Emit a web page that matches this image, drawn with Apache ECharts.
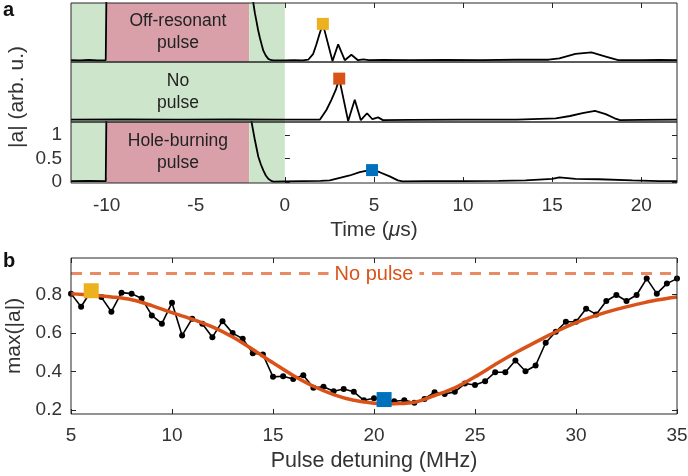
<!DOCTYPE html>
<html>
<head>
<meta charset="utf-8">
<script src="https://cdn.jsdelivr.net/npm/echarts@6/dist/echarts.min.js"></script>
<style>
  html, body { margin: 0; padding: 0; background: #fff; }
  #chart { width: 688px; height: 476px; }
</style>
</head>
<body>
<div id="chart"></div>
<script>
// ---- panel a : time traces (time in us, amplitude in arb. u.) ----
const timeTicks = [-10, -5, 0, 5, 10, 15, 20];
const ampTicks = [0, 0.5, 1];
const shadeWindow = [-12, 0];
const pulseWindow = [-10, -2];

const offResTrace = [
  [-12, 0.02], [-11.5, 0.015], [-11, 0.025], [-10.5, 0.015], [-10.05, 0.02], [-10, 2], [-1.85, 2],
  [-1.77, 1.28], [-1.68, 1.05], [-1.59, 0.87], [-1.5, 0.68], [-1.4, 0.51], [-1.3, 0.36], [-1.21, 0.23],
  [-1.07, 0.12], [-0.93, 0.05], [-0.8, 0.025], [-0.65, 0.015], [0, 0.015], [0.5, 0.02], [1, 0.015],
  [1.31, 0.03], [1.59, 0.16], [1.77, 0.37], [1.96, 0.62], [2.13, 0.82], [2.67, 0.0], [2.99, 0.37],
  [3.36, 0.02], [3.73, 0.14], [4.1, 0.02], [4.4, 0.04], [4.7, 0.02], [5.5, 0.025], [7, 0.02], [9, 0.025],
  [11, 0.02], [13, 0.03], [14.8, 0.03], [15.4, 0.06], [16.3, 0.16], [17.2, 0.19], [18.0, 0.1],
  [18.7, 0.02], [20, 0.02], [21, 0.025], [22, 0.02]
];
const noPulseTrace = [
  [-12, 0.03], [-9, 0.035], [-6, 0.03], [-3, 0.035], [0, 0.03], [1, 0.03], [1.96, 0.03], [2.33, 0.24],
  [2.61, 0.46], [2.86, 0.68], [3.05, 0.92], [3.55, 0.0], [3.92, 0.46], [4.26, 0.02], [4.61, 0.17],
  [4.91, 0.04], [5.23, 0.08], [5.5, 0.02], [7, 0.025], [10, 0.03], [13, 0.03], [15.2, 0.06], [16, 0.11],
  [16.7, 0.17], [17.4, 0.22], [18.0, 0.15], [18.5, 0.06], [18.8, 0.02], [20, 0.025], [22, 0.03]
];
const holeBurnTrace = [
  [-12, 0.02], [-11, 0.025], [-10.05, 0.02], [-10, 2], [-1.95, 2], [-1.87, 1.28], [-1.68, 0.89],
  [-1.49, 0.54], [-1.35, 0.38], [-1.21, 0.25], [-1.07, 0.14], [-0.93, 0.07], [-0.79, 0.03], [-0.65, 0.01],
  [0, 0.015], [1, 0.02], [2, 0.025], [2.52, 0.035], [3.08, 0.09], [3.64, 0.14], [4.2, 0.21], [4.89, 0.265],
  [5.32, 0.21], [5.88, 0.12], [6.34, 0.035], [6.6, 0.015], [8, 0.02], [10, 0.02], [12, 0.025],
  [13.5, 0.035], [15.0, 0.07], [15.4, 0.1], [16.3, 0.07], [17.6, 0.06], [19.5, 0.035], [21, 0.02], [22, 0.02]
];
const offResPeak = [2.13, 0.82];
const noPulsePeak = [3.05, 0.92];
const holeBurnPeak = [4.89, 0.255];

// ---- panel b : echo maximum vs pulse detuning ----
const detuning = [
  5, 5.5, 6, 6.5, 7, 7.5, 8, 8.5, 9, 9.5, 10, 10.5, 11, 11.5, 12, 12.5, 13, 13.5, 14, 14.5,
  15, 15.5, 16, 16.5, 17, 17.5, 18, 18.5, 19, 19.5, 20, 20.5, 21, 21.5, 22, 22.5, 23, 23.5, 24, 24.5,
  25, 25.5, 26, 26.5, 27, 27.5, 28, 28.5, 29, 29.5, 30, 30.5, 31, 31.5, 32, 32.5, 33, 33.5, 34, 34.5, 35
];
const maxA = [
  0.805, 0.737, 0.82, 0.787, 0.711, 0.81, 0.805, 0.78, 0.692, 0.649, 0.758, 0.588, 0.675, 0.649, 0.579, 0.662, 0.6, 0.571, 0.496, 0.489,
  0.373, 0.376, 0.362, 0.381, 0.316, 0.321, 0.298, 0.31, 0.295, 0.251, 0.262, 0.255, 0.246, 0.251, 0.239, 0.258, 0.293, 0.284, 0.295, 0.338,
  0.331, 0.35, 0.397, 0.397, 0.458, 0.402, 0.432, 0.55, 0.607, 0.659, 0.659, 0.727, 0.697, 0.767, 0.798, 0.767, 0.798, 0.883, 0.805, 0.857, 0.883
];
const fitDetuning = [5, 6, 7, 8, 9, 10, 11, 12, 13, 14, 15, 16, 17, 18, 19, 20, 20.5, 21, 22, 23, 24, 25, 26, 27, 28, 29, 30, 31, 32, 33, 34, 35];
const fitMaxA = [0.805, 0.798, 0.788, 0.773, 0.743, 0.706, 0.672, 0.632, 0.58, 0.515, 0.446, 0.38, 0.324, 0.281, 0.251, 0.236, 0.232, 0.233, 0.241, 0.276, 0.316, 0.373, 0.437, 0.498, 0.553, 0.607, 0.654, 0.692, 0.723, 0.749, 0.772, 0.788];
const maxTicks = [0.2, 0.4, 0.6, 0.8];
const noPulseLevel = 0.905;
const offResPoint = [6, 0.82];
const holeBurnPoint = [20.5, 0.255];

const FONT = '"Liberation Sans", Arial, Helvetica, sans-serif';
const INK = '#262626';
const TXT = '#333';
const GREEN = '#cde6cb';
const PINK = '#d9a0aa';
const YELLOW = '#EDB120';
const ORANGE = '#D95319';
const BLUE = '#0072BD';

const chart = echarts.init(document.getElementById('chart'));

const tickIn = (vals) => ({ show: true, inside: true, length: 5, customValues: vals, lineStyle: { color: INK, width: 1 } });
const hidden = { axisLine: { show: false }, axisTick: { show: false }, axisLabel: { show: false }, splitLine: { show: false } };
const gridBox = { left: 71, right: 11, show: true, borderColor: INK, borderWidth: 1, backgroundColor: 'transparent', z: 10,
  containLabel: false, outerBoundsMode: 'none' };

function timeAxis(grid, extra) {
  return Object.assign({ type: 'value', gridIndex: grid, min: shadeWindow[0], max: 22 }, hidden, extra);
}
function ampAxis(grid, extra) {
  return Object.assign({ type: 'value', gridIndex: grid, min: -0.02, max: 1.28 }, hidden, extra);
}

function boxLabel(text) {
  return { show: true, position: 'inside', formatter: text, fontFamily: FONT, fontSize: 17.5, lineHeight: 22, color: '#222' };
}
function shading(xi, yi, withPulse, text) {
  const areas = withPulse ? [
    [{ xAxis: shadeWindow[0], itemStyle: { color: GREEN } }, { xAxis: pulseWindow[0] }],
    [{ xAxis: pulseWindow[0], itemStyle: { color: PINK }, label: boxLabel(text) }, { xAxis: pulseWindow[1] }],
    [{ xAxis: pulseWindow[1], itemStyle: { color: GREEN } }, { xAxis: shadeWindow[1] }]
  ] : [
    [{ xAxis: shadeWindow[0], itemStyle: { color: GREEN }, label: boxLabel(text) }, { xAxis: shadeWindow[1] }]
  ];
  return { type: 'line', xAxisIndex: xi, yAxisIndex: yi, data: [], z: 1, silent: true,
    markArea: { silent: true, data: areas } };
}
function trace(xi, yi, data) {
  return { type: 'line', xAxisIndex: xi, yAxisIndex: yi, data: data, symbol: 'none', clip: true, z: 3,
    lineStyle: { color: '#000', width: 1.8 } };
}
function square(xi, yi, pt, color, size) {
  return { type: 'scatter', xAxisIndex: xi, yAxisIndex: yi, data: [pt], symbol: 'rect', symbolSize: size, z: 6,
    itemStyle: { color: color, opacity: 1 } };
}

const labelStyle = { fontFamily: FONT, fontSize: 19, color: TXT };

chart.setOption({
  animation: false,
  textStyle: { fontFamily: FONT },
  grid: [
    Object.assign({ top: 3, height: 59 }, gridBox),
    Object.assign({ top: 62, height: 60 }, gridBox),
    Object.assign({ top: 122, height: 61 }, gridBox),
    Object.assign({ top: 258, height: 156 }, gridBox)
  ],
  xAxis: [
    timeAxis(0),
    timeAxis(0, { position: 'top', axisTick: tickIn(timeTicks) }),
    timeAxis(1),
    timeAxis(2, {
      axisTick: tickIn(timeTicks),
      axisLabel: Object.assign({ show: true, customValues: timeTicks, margin: 13 }, labelStyle),
      name: '{n|Time (}{i|μ}{n|s)}', nameLocation: 'middle', nameGap: 37,
      nameTextStyle: { rich: { n: { fontFamily: FONT, fontSize: 21, color: TXT },
                               i: { fontFamily: FONT, fontSize: 21, color: TXT, fontStyle: 'italic' } } }
    }),
    Object.assign({ type: 'value', gridIndex: 3, min: 5, max: 35, interval: 5 }, hidden, {
      axisTick: { show: true, inside: true, length: 5, lineStyle: { color: INK } },
      axisLabel: Object.assign({ show: true, margin: 12 }, labelStyle),
      name: 'Pulse detuning (MHz)', nameLocation: 'middle', nameGap: 36,
      nameTextStyle: { fontFamily: FONT, fontSize: 21.5, color: TXT }
    }),
    Object.assign({ type: 'value', gridIndex: 3, min: 5, max: 35, interval: 5, position: 'top' }, hidden, {
      axisTick: { show: true, inside: true, length: 5, lineStyle: { color: INK } }
    })
  ],
  yAxis: [
    ampAxis(0),
    ampAxis(1),
    ampAxis(2, {
      axisTick: tickIn(ampTicks),
      axisLabel: Object.assign({ show: true, customValues: ampTicks, margin: 9 }, labelStyle)
    }),
    ampAxis(2, { position: 'right', axisTick: tickIn(ampTicks) }),
    Object.assign({ type: 'value', gridIndex: 3, min: 0.18, max: 0.99 }, hidden, {
      axisTick: tickIn(maxTicks),
      axisLabel: Object.assign({ show: true, customValues: maxTicks, margin: 9 }, labelStyle),
      name: 'max(|a|)', nameLocation: 'middle', nameGap: 41, nameRotate: 90,
      nameTextStyle: { fontFamily: FONT, fontSize: 21, color: TXT }
    }),
    Object.assign({ type: 'value', gridIndex: 3, min: 0.18, max: 0.99, position: 'right' }, hidden, {
      axisTick: tickIn(maxTicks)
    })
  ],
  series: [
    shading(0, 0, true, 'Off-resonant\npulse'),
    trace(0, 0, offResTrace),
    square(0, 0, offResPeak, YELLOW, 12),

    shading(2, 1, false, 'No\npulse'),
    trace(2, 1, noPulseTrace),
    square(2, 1, noPulsePeak, ORANGE, 12),

    shading(3, 2, true, 'Hole-burning\npulse'),
    trace(3, 2, holeBurnTrace),
    square(3, 2, holeBurnPeak, BLUE, 12),

    { type: 'line', xAxisIndex: 4, yAxisIndex: 4, data: detuning.map((d, i) => [d, maxA[i]]),
      symbol: 'circle', symbolSize: 6, showSymbol: true, z: 3,
      itemStyle: { color: '#000' }, lineStyle: { color: '#000', width: 1.6 } },
    { type: 'line', xAxisIndex: 4, yAxisIndex: 4, data: fitDetuning.map((d, i) => [d, fitMaxA[i]]),
      smooth: 0.35, symbol: 'none', z: 4, lineStyle: { color: ORANGE, width: 3.5 },
      markLine: { silent: true, symbol: ['none', 'none'], label: { show: false },
        lineStyle: { color: '#EA8A60', type: [11, 8], width: 3 },
        data: [{ yAxis: noPulseLevel }] } },
    square(4, 4, offResPoint, YELLOW, 15),
    square(4, 4, holeBurnPoint, BLUE, 15)
  ]
});

// labels that are not tied to one axis
const np = chart.convertToPixel({ xAxisIndex: 4, yAxisIndex: 4 }, [20, noPulseLevel]);
chart.setOption({
  graphic: [
    { type: 'text', left: 3, top: 0, style: { text: 'a', font: 'bold 20px ' + FONT, fill: '#111' } },
    { type: 'text', left: 3, top: 251, style: { text: 'b', font: 'bold 20px ' + FONT, fill: '#111' } },
    { type: 'text', x: 17, y: 97, rotation: Math.PI / 2,
      style: { text: '|a| (arb. u.)', font: '21px ' + FONT, fill: TXT, align: 'center', verticalAlign: 'middle' } },
    { type: 'text', x: np[0], y: np[1], z: 20,
      style: { text: 'No pulse', font: '20px ' + FONT, fill: ORANGE, align: 'center', verticalAlign: 'middle',
        backgroundColor: '#fff', padding: [0, 6] } }
  ]
});
</script>
</body>
</html>
